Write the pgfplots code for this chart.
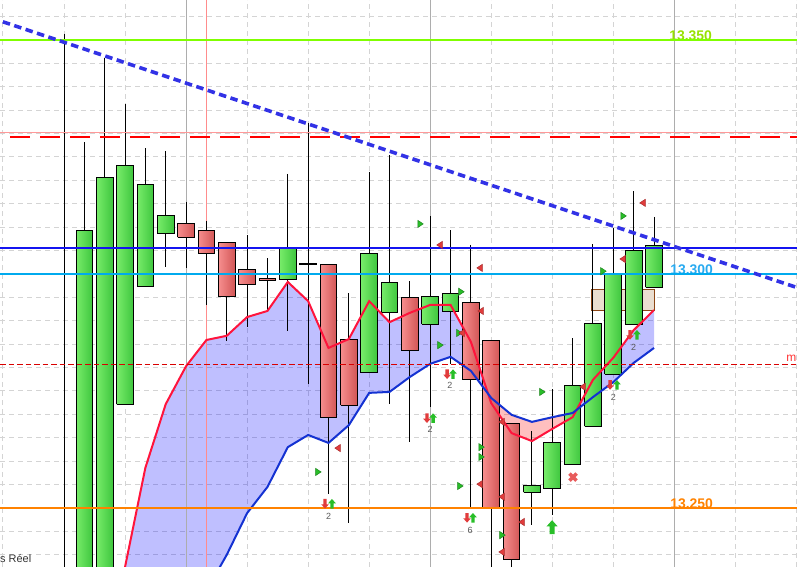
\documentclass[border=0pt]{standalone}
\usepackage{fontspec}
\setmainfont{Liberation Sans}
\usepackage{pgfplots}
\usepackage{pgfplotstable}
\pgfplotsset{compat=1.18}
\usepgfplotslibrary{fillbetween}

\definecolor{gLight}{RGB}{120,236,106}
\definecolor{gDark}{RGB}{62,198,62}
\definecolor{rLight}{RGB}{246,142,142}
\definecolor{rDark}{RGB}{210,86,86}
\definecolor{lvlGreen}{RGB}{128,255,0}
\definecolor{lblGreen}{RGB}{150,225,0}
\definecolor{lvlCyan}{RGB}{0,170,238}
\definecolor{lblCyan}{RGB}{40,170,240}
\definecolor{lvlOrange}{RGB}{255,130,0}
\definecolor{lvlBlue}{RGB}{20,20,240}
\definecolor{maRed}{RGB}{255,20,60}
\definecolor{maBlue}{RGB}{20,50,210}
\definecolor{trendBlue}{RGB}{50,50,230}
\definecolor{triGreen}{RGB}{40,190,40}
\definecolor{triRed}{RGB}{225,60,60}
\definecolor{crossRed}{RGB}{232,92,92}
\definecolor{boxFill}{RGB}{234,222,208}
\definecolor{boxEdge}{RGB}{140,70,20}

% small signal marks
\pgfdeclareplotmark{rtri}{%
  \pgfpathmoveto{\pgfqpoint{-2.3bp}{3.6bp}}%
  \pgfpathlineto{\pgfqpoint{3.2bp}{0bp}}%
  \pgfpathlineto{\pgfqpoint{-2.3bp}{-3.6bp}}%
  \pgfpathclose\pgfusepathqfillstroke}
\pgfdeclareplotmark{ltri}{%
  \pgfpathmoveto{\pgfqpoint{2.3bp}{3.6bp}}%
  \pgfpathlineto{\pgfqpoint{-3.2bp}{0bp}}%
  \pgfpathlineto{\pgfqpoint{2.3bp}{-3.6bp}}%
  \pgfpathclose\pgfusepathqfillstroke}
\pgfdeclareplotmark{upar}{%
  \pgfpathmoveto{\pgfqpoint{0pt}{\pgfplotmarksize}}%
  \pgfpathlineto{\pgfqpoint{0.8\pgfplotmarksize}{0.1\pgfplotmarksize}}%
  \pgfpathlineto{\pgfqpoint{0.35\pgfplotmarksize}{0.1\pgfplotmarksize}}%
  \pgfpathlineto{\pgfqpoint{0.35\pgfplotmarksize}{-\pgfplotmarksize}}%
  \pgfpathlineto{\pgfqpoint{-0.35\pgfplotmarksize}{-\pgfplotmarksize}}%
  \pgfpathlineto{\pgfqpoint{-0.35\pgfplotmarksize}{0.1\pgfplotmarksize}}%
  \pgfpathlineto{\pgfqpoint{-0.8\pgfplotmarksize}{0.1\pgfplotmarksize}}%
  \pgfpathclose\pgfusepathqfill}
\pgfdeclareplotmark{dnar}{%
  \pgfpathmoveto{\pgfqpoint{0pt}{-\pgfplotmarksize}}%
  \pgfpathlineto{\pgfqpoint{0.8\pgfplotmarksize}{-0.1\pgfplotmarksize}}%
  \pgfpathlineto{\pgfqpoint{0.35\pgfplotmarksize}{-0.1\pgfplotmarksize}}%
  \pgfpathlineto{\pgfqpoint{0.35\pgfplotmarksize}{\pgfplotmarksize}}%
  \pgfpathlineto{\pgfqpoint{-0.35\pgfplotmarksize}{\pgfplotmarksize}}%
  \pgfpathlineto{\pgfqpoint{-0.35\pgfplotmarksize}{-0.1\pgfplotmarksize}}%
  \pgfpathlineto{\pgfqpoint{-0.8\pgfplotmarksize}{-0.1\pgfplotmarksize}}%
  \pgfpathclose\pgfusepathqfill}

% candles: up = 1 green, 0 red, 2 doji
\pgfplotstableread{
i top bot high low up
0 13.2290 13.2260 13.3513 13.2200 1
1 13.3092 13.2300 13.3282 13.2260 1
2 13.3207 13.2300 13.3462 13.2260 1
3 13.3231 13.2722 13.3363 13.2722 1
4 13.3192 13.2974 13.3269 13.2974 1
5 13.3126 13.3086 13.3263 13.3015 1
6 13.3107 13.3079 13.3154 13.3013 0
7 13.3094 13.3043 13.3113 13.2934 0
8 13.3068 13.2951 13.3068 13.2857 0
9 13.3009 13.2977 13.3083 13.2887 0
10 13.2991 13.2987 13.3034 13.2921 0
11 13.3056 13.2989 13.3214 13.2878 1
12 13.3021 13.3021 13.3323 13.2765 2
13 13.3021 13.2694 13.3021 13.2530 0
14 13.2859 13.2720 13.2959 13.2468 0
15 13.3043 13.2789 13.3218 13.2789 1
16 13.2981 13.2917 13.3254 13.2722 1
17 13.2949 13.2836 13.2985 13.2641 0
18 13.2951 13.2893 13.3124 13.2716 1
19 13.2959 13.2919 13.3094 13.2808 1
20 13.2940 13.2774 13.3062 13.2498 0
21 13.2857 13.2500 13.2857 13.2300 0
22 13.2680 13.2389 13.2680 13.2300 0
23 13.2547 13.2534 13.2665 13.2464 1
24 13.2641 13.2541 13.2754 13.2485 1
25 13.2761 13.2592 13.2863 13.2592 1
26 13.2895 13.2675 13.3064 13.2675 1
27 13.3002 13.2786 13.3098 13.2786 1
28 13.3051 13.2893 13.3177 13.2893 1
29 13.3060 13.2972 13.3122 13.2972 1
}\candles

\pgfplotstableread{
i red blue
1 13.1898 13.1812
2 13.2132 13.1897
3 13.2374 13.1983
4 13.2586 13.2068
5 13.2722 13.2154
6 13.2803 13.2239
7 13.2859 13.2323
8 13.2868 13.2400
9 13.2908 13.2489
10 13.2921 13.2545
11 13.2983 13.2630
12 13.2942 13.2656
13 13.2842 13.2639
14 13.2861 13.2677
15 13.2942 13.2746
16 13.2897 13.2748
17 13.2917 13.2780
18 13.2934 13.2808
19 13.2934 13.2823
20 13.2855 13.2793
21 13.2724 13.2735
22 13.2660 13.2699
23 13.2643 13.2684
24 13.2669 13.2694
25 13.2694 13.2703
26 13.2774 13.2737
27 13.2821 13.2769
28 13.2880 13.2810
29 13.2923 13.2842
}\bands

\begin{document}
\begin{tikzpicture}
\begin{axis}[
  scale only axis,
  width=797bp, height=567bp,
  xmin=-3.146, xmax=36.028,
  ymin=13.23739, ymax=13.35855,
  axis line style={draw=none},
  tick style={draw=none},
  xtick={-3,0,...,36},
  ytick={13.240,13.245,13.250,13.255,13.260,13.265,13.270,13.275,13.280,13.285,13.290,13.295,13.300,13.305,13.310,13.315,13.320,13.325,13.330,13.335,13.340,13.345,13.350,13.355},
  xticklabels={}, yticklabels={},
  grid=major,
  major grid style={color=black!17, line width=1bp, dash pattern=on 5bp off 4bp},
]
% session separators
\addplot[black!32, line width=1bp] coordinates {(6,13.2) (6,13.4)};
\addplot[black!32, line width=1bp] coordinates {(18,13.2) (18,13.4)};
\addplot[black!32, line width=1bp] coordinates {(30,13.2) (30,13.4)};
\addplot[red!45, line width=1bp] coordinates {(7,13.2) (7,13.4)};

% band between the two averages
\addplot[draw=none, name path=maR] table[x=i, y=red] {\bands};
\addplot[draw=none, name path=maB] table[x=i, y=blue] {\bands};
\addplot[fill=blue, fill opacity=0.25, draw=none]
  fill between[of=maR and maB, split, every segment no 1/.style={fill=red}];

% zone box
\addplot[fill=boxFill, draw=boxEdge, line width=1bp] coordinates
  {(25.95,13.2921) (25.95,13.2966) (29.0,13.2966) (29.0,13.2921) (25.95,13.2921)};

% candles
\pgfplotsinvokeforeach{0,...,29}{
  \pgfplotstablegetelem{#1}{top}\of{\candles}\let\cTop\pgfplotsretval
  \pgfplotstablegetelem{#1}{bot}\of{\candles}\let\cBot\pgfplotsretval
  \pgfplotstablegetelem{#1}{high}\of{\candles}\let\cHi\pgfplotsretval
  \pgfplotstablegetelem{#1}{low}\of{\candles}\let\cLo\pgfplotsretval
  \pgfplotstablegetelem{#1}{up}\of{\candles}\let\cDir\pgfplotsretval
  \pgfmathsetmacro\xL{#1-0.41}
  \pgfmathsetmacro\xR{#1+0.41}
  \addplot[black, line width=1bp] coordinates {(#1,\cHi) (#1,\cLo)};
  \ifnum\cDir=2
    \addplot[black, line width=2.2bp] coordinates {(#1-0.44,\cTop) (#1+0.44,\cTop)};
  \else\ifnum\cDir=1
    \addplot[draw=black, line width=1bp, left color=gLight, right color=gDark]
      coordinates {(\xL,\cBot) (\xL,\cTop) (\xR,\cTop) (\xR,\cBot) (\xL,\cBot)};
  \else
    \addplot[draw=black, line width=1bp, left color=rLight, right color=rDark]
      coordinates {(\xL,\cBot) (\xL,\cTop) (\xR,\cTop) (\xR,\cBot) (\xL,\cBot)};
  \fi\fi
}

% averages
\addplot[maRed, line width=2bp] table[x=i, y=red] {\bands};
\addplot[maBlue, line width=2bp] table[x=i, y=blue] {\bands};

% labels under the levels
\node[anchor=base west, inner sep=0, text=lblGreen, font=\bfseries\fontsize{14}{14}\selectfont] at (axis cs:29.74,13.3500) {13.350};
\node[anchor=base west, inner sep=0, text=lblCyan, font=\bfseries\fontsize{14}{14}\selectfont] at (axis cs:29.79,13.2998) {13.300};
\node[anchor=base west, inner sep=0, text=lvlOrange, font=\bfseries\fontsize{14}{14}\selectfont] at (axis cs:29.79,13.2498) {13.250};

% levels
\addplot[lvlGreen, line width=2.4bp] coordinates {(-3.146,13.3500) (36.1,13.3500)};
\addplot[red!40, line width=1bp] coordinates {(-3.146,13.3303) (36.1,13.3303)};
\addplot[red, line width=2.4bp, dash pattern=on 20bp off 10bp, dash phase=20bp] coordinates {(-3.146,13.3293) (36.1,13.3293)};
\addplot[lvlBlue, line width=1.5bp] coordinates {(-3.146,13.3056) (36.1,13.3056)};
\addplot[lvlCyan, line width=2.8bp] coordinates {(-3.146,13.3000) (36.1,13.3000)};
\addplot[red!85!black, line width=1.3bp, dash pattern=on 5.5bp off 3bp] coordinates {(-3.146,13.2806) (36.1,13.2806)};
\addplot[lvlOrange, line width=2.8bp] coordinates {(-3.146,13.2500) (36.1,13.2500)};
\addplot[trendBlue, line width=3.6bp, dash pattern=on 7.5bp off 4.5bp, dash phase=-3bp] coordinates {(-3.146,13.3541) (36.028,13.2971)};

% signals
\addplot[only marks, mark=rtri, mark options={fill=triGreen, draw=triGreen!70!black, line width=0.5bp}] coordinates {
  (17.50,13.3107) (27.48,13.3124) (26.49,13.3006) (19.51,13.2962) (19.41,13.2874)
  (18.48,13.2848) (23.49,13.2748) (20.50,13.2630) (20.50,13.2609) (19.46,13.2547)
  (21.53,13.2442) (12.48,13.2577)};
\addplot[only marks, mark=ltri, mark options={fill=triRed, draw=triRed!75!black, line width=0.5bp}] coordinates {
  (18.48,13.3062) (20.45,13.3013) (28.46,13.3152) (27.48,13.3032) (13.47,13.2628)
  (20.50,13.2921) (19.56,13.2874) (21.53,13.2684) (20.45,13.2551) (21.53,13.2524)
  (22.51,13.2470) (21.53,13.2406) (25.51,13.2759)};
\addplot[only marks, mark=dnar, mark size=4.8bp, mark options={fill=triRed, draw=none}] coordinates {
  (12.83,13.2509) (17.84,13.2692) (18.83,13.2786) (19.81,13.2479) (26.84,13.2763) (27.82,13.2870)};
\addplot[only marks, mark=upar, mark size=4.8bp, mark options={fill=triGreen, draw=none}] coordinates {
  (13.17,13.2509) (18.14,13.2692) (19.12,13.2786) (20.10,13.2479) (27.18,13.2763) (28.16,13.2870)};
\addplot[only marks, mark=upar, mark size=7bp, mark options={fill=triGreen, draw=none}] coordinates {(23.99,13.2459)};
\addplot[only marks, mark=x, mark size=5bp, mark options={draw=crossRed, line width=3.6bp}] coordinates {(25.02,13.2566)};

\node[text=black!65, font=\fontsize{9}{9}\selectfont, inner sep=0] at (axis cs:13.0,13.2483) {2};
\node[text=black!65, font=\fontsize{9}{9}\selectfont, inner sep=0] at (axis cs:17.99,13.2669) {2};
\node[text=black!65, font=\fontsize{9}{9}\selectfont, inner sep=0] at (axis cs:18.97,13.2761) {2};
\node[text=black!65, font=\fontsize{9}{9}\selectfont, inner sep=0] at (axis cs:19.96,13.2453) {6};
\node[text=black!65, font=\fontsize{9}{9}\selectfont, inner sep=0] at (axis cs:27.0,13.2737) {2};
\node[text=black!65, font=\fontsize{9}{9}\selectfont, inner sep=0] at (axis cs:28.0,13.2844) {2};

\node[anchor=base west, inner sep=0, text=black!80, font=\fontsize{11}{11}\selectfont] at (axis cs:-3.146,13.2383) {s Réel};
\node[anchor=base east, inner sep=0, text=red!80, font=\fontsize{12}{12}\selectfont] at (axis cs:36.0,13.2812) {m};
\end{axis}
\pgfresetboundingbox
\path[use as bounding box] (current axis.south west) rectangle (current axis.north east);
\end{tikzpicture}
\end{document}
